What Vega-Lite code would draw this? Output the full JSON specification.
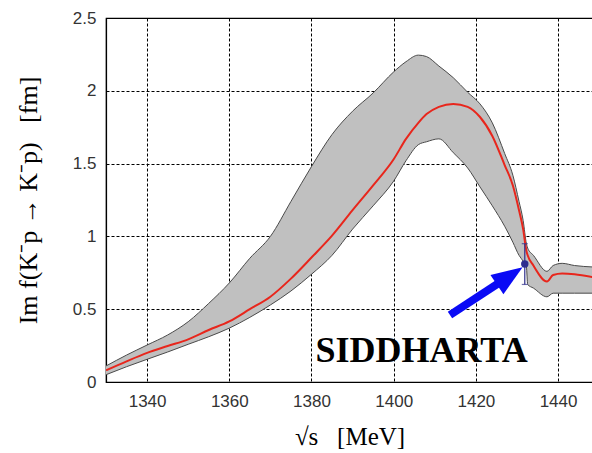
{
  "$schema": "https://vega.github.io/schema/vega-lite/v6.json",
  "width": 487,
  "height": 364,
  "autosize": {"type": "none"},
  "padding": {"left": 106, "top": 18, "right": 0, "bottom": 71},
  "background": "white",
  "config": {
    "view": {"stroke": "black", "strokeWidth": 1.2},
    "axis": {
      "domainColor": "black",
      "domainWidth": 1.2,
      "ticks": false,
      "gridColor": "black",
      "gridDash": [3, 2],
      "gridWidth": 1,
      "labelFont": "Liberation Sans",
      "labelFontSize": 17,
      "labelColor": "#333333",
      "titleFont": "Liberation Serif",
      "titleFontWeight": "normal",
      "titleColor": "black"
    }
  },
  "datasets": {
    "band": [
      {"s": 1330, "lo": 0.05, "mid": 0.08, "hi": 0.11},
      {"s": 1335, "lo": 0.105, "mid": 0.142, "hi": 0.185},
      {"s": 1340, "lo": 0.156, "mid": 0.2, "hi": 0.254},
      {"s": 1345, "lo": 0.206, "mid": 0.247, "hi": 0.323},
      {"s": 1350, "lo": 0.259, "mid": 0.293, "hi": 0.414},
      {"s": 1355, "lo": 0.311, "mid": 0.357, "hi": 0.54},
      {"s": 1360, "lo": 0.37, "mid": 0.416, "hi": 0.68},
      {"s": 1365, "lo": 0.444, "mid": 0.5, "hi": 0.85},
      {"s": 1370, "lo": 0.529, "mid": 0.586, "hi": 1.0},
      {"s": 1375, "lo": 0.625, "mid": 0.71, "hi": 1.24},
      {"s": 1380, "lo": 0.74, "mid": 0.855, "hi": 1.48},
      {"s": 1385, "lo": 0.87, "mid": 1.005, "hi": 1.7},
      {"s": 1390, "lo": 1.05, "mid": 1.18, "hi": 1.86},
      {"s": 1395, "lo": 1.21, "mid": 1.35, "hi": 1.985},
      {"s": 1400, "lo": 1.38, "mid": 1.53, "hi": 2.13},
      {"s": 1403, "lo": 1.52, "mid": 1.67, "hi": 2.2},
      {"s": 1406, "lo": 1.63, "mid": 1.78, "hi": 2.245},
      {"s": 1408, "lo": 1.65, "mid": 1.84, "hi": 2.235},
      {"s": 1411, "lo": 1.67, "mid": 1.89, "hi": 2.17},
      {"s": 1414.5, "lo": 1.575, "mid": 1.91, "hi": 2.09},
      {"s": 1418, "lo": 1.47, "mid": 1.89, "hi": 1.99},
      {"s": 1421, "lo": 1.34, "mid": 1.82, "hi": 1.91},
      {"s": 1424, "lo": 1.21, "mid": 1.69, "hi": 1.78},
      {"s": 1427, "lo": 1.07, "mid": 1.49, "hi": 1.57},
      {"s": 1429, "lo": 0.96, "mid": 1.35, "hi": 1.42},
      {"s": 1430.5, "lo": 0.87, "mid": 1.18, "hi": 1.24},
      {"s": 1431.5, "lo": 0.83, "mid": 1.05, "hi": 1.11},
      {"s": 1432.3, "lo": 0.79, "mid": 0.9, "hi": 0.95},
      {"s": 1432.6, "lo": 0.67, "mid": 0.87, "hi": 0.92},
      {"s": 1434, "lo": 0.645, "mid": 0.8, "hi": 0.87},
      {"s": 1437.3, "lo": 0.585, "mid": 0.69, "hi": 0.76},
      {"s": 1438.8, "lo": 0.61, "mid": 0.735, "hi": 0.8},
      {"s": 1441, "lo": 0.61, "mid": 0.745, "hi": 0.815},
      {"s": 1444, "lo": 0.61, "mid": 0.74, "hi": 0.8},
      {"s": 1448.5, "lo": 0.61, "mid": 0.72, "hi": 0.79}
    ],
    "meas": [{"s": 1431.9, "v": 0.81, "lo": 0.67, "hi": 0.95}],
    "arrow": [{"s": 1413.7, "v": 0.46, "s2": 1428.25, "v2": 0.729}],
    "head": [{"s": 1428.25, "v": 0.729}],
    "label": [{"s": 1406.8, "v": 0.139, "t": "SIDDHARTA"}]
  },
  "layer": [
    {
      "data": {"name": "band"},
      "mark": {"type": "area", "color": "#c0c0c0", "interpolate": "monotone", "clip": true},
      "encoding": {
        "x": {
          "field": "s", "type": "quantitative", "title": "√s\u00a0\u00a0\u00a0[MeV]",
          "scale": {"domain": [1330, 1448.5], "nice": false, "zero": false},
          "axis": {"values": [1340, 1360, 1380, 1400, 1420, 1440], "format": "d", "labelPadding": 11, "titlePadding": 15, "titleFontSize": 25}
        },
        "y": {
          "field": "hi", "type": "quantitative", "title": "Im f(K⁻p → K⁻p)\u00a0\u00a0\u00a0[fm]",
          "scale": {"domain": [0, 2.5], "nice": false},
          "axis": {"values": [0, 0.5, 1, 1.5, 2, 2.5], "format": "~f", "labelPadding": 10, "titlePadding": 31, "titleFontSize": 26}
        },
        "y2": {"field": "lo"}
      }
    },
    {
      "data": {"name": "band"},
      "mark": {"type": "line", "color": "#4a4a4a", "strokeWidth": 1, "interpolate": "monotone", "clip": true},
      "encoding": {
        "x": {"field": "s", "type": "quantitative", "title": "√s\u00a0\u00a0\u00a0[MeV]"},
        "y": {"field": "hi", "type": "quantitative", "title": "Im f(K⁻p → K⁻p)\u00a0\u00a0\u00a0[fm]"}
      }
    },
    {
      "data": {"name": "band"},
      "mark": {"type": "line", "color": "#4a4a4a", "strokeWidth": 1, "interpolate": "monotone", "clip": true},
      "encoding": {
        "x": {"field": "s", "type": "quantitative", "title": "√s\u00a0\u00a0\u00a0[MeV]"},
        "y": {"field": "lo", "type": "quantitative", "title": "Im f(K⁻p → K⁻p)\u00a0\u00a0\u00a0[fm]"}
      }
    },
    {
      "data": {"name": "band"},
      "mark": {"type": "line", "color": "#e8261c", "strokeWidth": 2, "interpolate": "monotone", "clip": true},
      "encoding": {
        "x": {"field": "s", "type": "quantitative", "title": "√s\u00a0\u00a0\u00a0[MeV]"},
        "y": {"field": "mid", "type": "quantitative", "title": "Im f(K⁻p → K⁻p)\u00a0\u00a0\u00a0[fm]"}
      }
    },
    {
      "data": {"name": "meas"},
      "mark": {"type": "rule", "color": "#30308c", "strokeWidth": 1.2},
      "encoding": {
        "x": {"field": "s", "type": "quantitative", "title": "√s\u00a0\u00a0\u00a0[MeV]"},
        "y": {"field": "lo", "type": "quantitative", "title": "Im f(K⁻p → K⁻p)\u00a0\u00a0\u00a0[fm]"},
        "y2": {"field": "hi"}
      }
    },
    {
      "data": {"name": "meas"},
      "mark": {"type": "tick", "orient": "horizontal", "color": "#30308c", "size": 6, "thickness": 1.2},
      "encoding": {
        "x": {"field": "s", "type": "quantitative", "title": "√s\u00a0\u00a0\u00a0[MeV]"},
        "y": {"field": "lo", "type": "quantitative", "title": "Im f(K⁻p → K⁻p)\u00a0\u00a0\u00a0[fm]"}
      }
    },
    {
      "data": {"name": "meas"},
      "mark": {"type": "tick", "orient": "horizontal", "color": "#30308c", "size": 6, "thickness": 1.2},
      "encoding": {
        "x": {"field": "s", "type": "quantitative", "title": "√s\u00a0\u00a0\u00a0[MeV]"},
        "y": {"field": "hi", "type": "quantitative", "title": "Im f(K⁻p → K⁻p)\u00a0\u00a0\u00a0[fm]"}
      }
    },
    {
      "data": {"name": "meas"},
      "mark": {"type": "point", "shape": "circle", "filled": true, "color": "#2d2d8f", "opacity": 1, "size": 55},
      "encoding": {
        "x": {"field": "s", "type": "quantitative", "title": "√s\u00a0\u00a0\u00a0[MeV]"},
        "y": {"field": "v", "type": "quantitative", "title": "Im f(K⁻p → K⁻p)\u00a0\u00a0\u00a0[fm]"}
      }
    },
    {
      "data": {"name": "arrow"},
      "mark": {"type": "rule", "color": "#0a0af5", "strokeWidth": 8, "strokeCap": "butt"},
      "encoding": {
        "x": {"field": "s", "type": "quantitative", "title": "√s\u00a0\u00a0\u00a0[MeV]"},
        "y": {"field": "v", "type": "quantitative", "title": "Im f(K⁻p → K⁻p)\u00a0\u00a0\u00a0[fm]"},
        "x2": {"field": "s2"},
        "y2": {"field": "v2"}
      }
    },
    {
      "data": {"name": "head"},
      "mark": {"type": "point", "shape": "M0,-1L0.75,1L-0.75,1Z", "filled": true, "color": "#0a0af5", "opacity": 1, "size": 961, "angle": 56},
      "encoding": {
        "x": {"field": "s", "type": "quantitative", "title": "√s\u00a0\u00a0\u00a0[MeV]"},
        "y": {"field": "v", "type": "quantitative", "title": "Im f(K⁻p → K⁻p)\u00a0\u00a0\u00a0[fm]"}
      }
    },
    {
      "data": {"name": "label"},
      "mark": {"type": "text", "font": "Liberation Serif", "fontWeight": "bold", "fontSize": 36, "align": "center", "baseline": "alphabetic", "color": "black"},
      "encoding": {
        "x": {"field": "s", "type": "quantitative", "title": "√s\u00a0\u00a0\u00a0[MeV]"},
        "y": {"field": "v", "type": "quantitative", "title": "Im f(K⁻p → K⁻p)\u00a0\u00a0\u00a0[fm]"},
        "text": {"field": "t"}
      }
    }
  ]
}
